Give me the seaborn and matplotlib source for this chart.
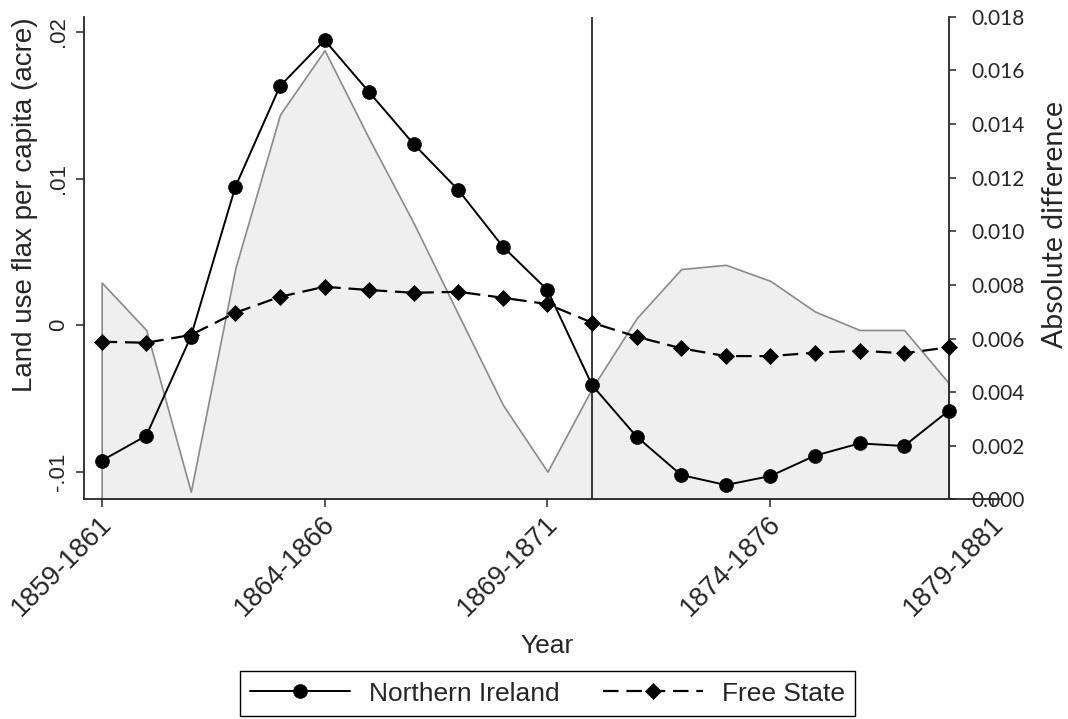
import matplotlib
matplotlib.use('Agg')
import matplotlib.pyplot as plt
import matplotlib.transforms as mtransforms
import seaborn as sns

# Datos (periodos de 3 anos, indice 0 = 1859-1861)
periods = list(range(20))
tick_pos = [0, 5, 10, 15, 20]
tick_labels = ['1859-1861', '1864-1866', '1869-1871', '1874-1876', '1879-1881']

northern_ireland = [-0.00926, -0.00756, -0.00080, 0.00944, 0.01631, 0.01945, 0.01590,
                    0.01235, 0.00922, 0.00535, 0.00239, -0.00410, -0.00762, -0.01024,
                    -0.01092, -0.01031, -0.00892, -0.00808, -0.00826, -0.00585]
free_state = [-0.00114, -0.00121, -0.00068, 0.00084, 0.00193, 0.00261, 0.00239,
              0.00220, 0.00227, 0.00186, 0.00143, 0.00016, -0.00080, -0.00159,
              -0.00212, -0.00212, -0.00189, -0.00175, -0.00193, -0.00152]
abs_difference = [0.00809, 0.00632, 0.00029, 0.00863, 0.01435, 0.01675, 0.01345,
                  0.01030, 0.00690, 0.00353, 0.00104, 0.00415, 0.00676, 0.00859,
                  0.00875, 0.00815, 0.00701, 0.00632, 0.00632, 0.00434]
reform_period = 11

left_ticks = [-0.01, 0.0, 0.01, 0.02]
left_labels = ['-.01', '0', '.01', '.02']
right_ticks = [0.0, 0.002, 0.004, 0.006, 0.008, 0.010, 0.012, 0.014, 0.016, 0.018]

# Estilo
sns.set_style('ticks')
plt.rcParams['font.family'] = ['Liberation Sans', 'DejaVu Sans']
plt.rcParams['axes.linewidth'] = 1.3

fig = plt.figure(figsize=(10.68, 7.19), dpi=100)
ax = fig.add_axes([0.0789, 0.3053, 0.8574, 0.6715])
ax2 = ax.twinx()
ax.set_zorder(ax2.get_zorder() + 1)
ax.patch.set_visible(False)

# Area gris: diferencia absoluta (eje derecho)
ax2.fill_between(periods, 0, abs_difference, facecolor='#efefef',
                 edgecolor='#8a8a8a', linewidth=1.2)

# Linea vertical
ax.axvline(reform_period, color='#3a3a3a', linewidth=1.4, zorder=1)

# Series principales
sns.lineplot(x=periods, y=northern_ireland, ax=ax, color='black', marker='o',
             markersize=10, markeredgecolor='black', markeredgewidth=0.5,
             linewidth=1.4, label='Northern Ireland', zorder=3)
sns.lineplot(x=periods, y=free_state, ax=ax, color='black', marker='D',
             markersize=8.5, markeredgecolor='black', markeredgewidth=0.5,
             linewidth=1.6, label='Free State', zorder=3)
ax.lines[-1].set_linestyle((0, (7, 3.5)))

# Ejes
ax.set_xlim(-0.39, 20.15)
ax.set_ylim(-0.01191, 0.02105)
ax2.set_ylim(0, 0.018)

for s in ['top', 'right']:
    ax.spines[s].set_visible(False)
for s in ['top', 'left', 'bottom']:
    ax2.spines[s].set_visible(False)
ax2.spines['right'].set_position(('data', 19))
ax2.spines['right'].set_linewidth(1.3)

ax.set_xticks(tick_pos, tick_labels)
ax.tick_params(axis='x', length=6, width=1.1, pad=2, labelsize=19.5)
offset = mtransforms.ScaledTranslation(-0.03, 0, fig.dpi_scale_trans)
for lab in ax.get_xticklabels():
    lab.set_rotation(45)
    lab.set_ha('right')
    lab.set_va('top')
    lab.set_rotation_mode('anchor')
    lab.set_transform(lab.get_transform() + offset)

ax.set_yticks(left_ticks, left_labels)
ax.tick_params(axis='y', length=6, width=1.1, pad=5, labelsize=16, labelrotation=90)
for lab in ax.get_yticklabels():
    lab.set_va('center')

ax2.set_yticks(right_ticks, [f'{v:.3f}' for v in right_ticks])
ax2.tick_params(axis='y', length=5, width=1.1, pad=11, labelsize=15)
for lab in ax2.get_yticklabels():
    lab.set_fontfamily('Lato')

ax.set_ylabel('Land use flax per capita (acre)', fontsize=20)
ax.yaxis.set_label_coords(-0.0506, 0.61)
ax2.set_ylabel('Absolute difference', fontsize=20.5, fontfamily='Lato')
ax2.yaxis.set_label_coords(1.046, 0.569)
ax.set_xlabel('Year', fontsize=19)
ax.xaxis.set_label_coords(0.505, -0.278)

leg = ax.legend(loc='upper center', bbox_to_anchor=(0.5126, 0.0668),
                bbox_transform=fig.transFigure, ncol=2, frameon=True,
                fancybox=False, edgecolor='black', framealpha=1, fontsize=19,
                handlelength=3.8, handletextpad=0.7, columnspacing=1.65,
                borderpad=0.4, borderaxespad=0)
leg.get_frame().set_linewidth(1.0)

fig.savefig('out.png', dpi=100)
